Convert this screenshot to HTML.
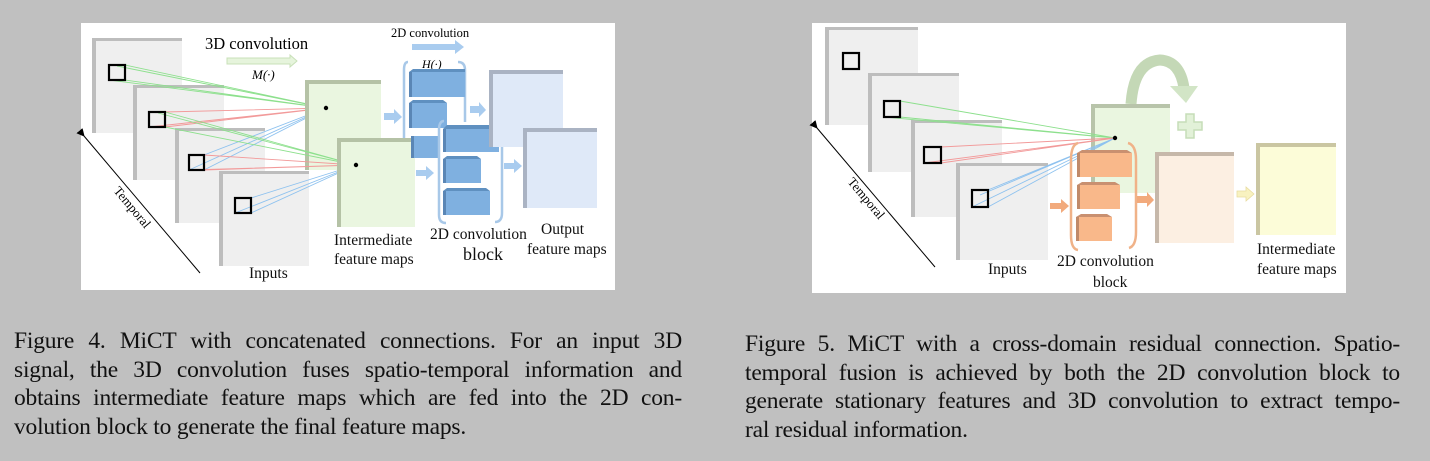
<!DOCTYPE html>
<html><head><meta charset="utf-8"><style>
html,body{margin:0;padding:0;}
body{width:1430px;height:461px;background:#c0c0c0;position:relative;overflow:hidden;font-family:"Liberation Serif",serif;}
svg{position:absolute;left:0;top:0;}
.cap{position:absolute;font-size:23.5px;color:#111;line-height:28.5px;letter-spacing:-0.2px;}
.cap div{text-align:justify;text-align-last:justify;white-space:nowrap;}
.cap div.last{text-align-last:left;}
</style></head><body>
<svg width="1430" height="461" viewBox="0 0 1430 461" font-family="Liberation Serif, serif">
<defs>
<marker id="ah" markerWidth="8" markerHeight="8" refX="1" refY="4" orient="auto"><path d="M8,0 L0,4 L8,8 Z" fill="#000"/></marker>
</defs>
<!-- LEFT PANEL -->
<rect x="81" y="23" width="534" height="267" fill="#fff"/>
<g>
<rect x="92" y="38" width="90" height="95" fill="#bdbdbd"/><rect x="96" y="41" width="86" height="92" fill="#efefef"/>
<rect x="133" y="85" width="91" height="95" fill="#bdbdbd"/><rect x="137" y="88" width="87" height="92" fill="#efefef"/>
<rect x="175" y="128" width="90" height="95" fill="#bdbdbd"/><rect x="179" y="131" width="86" height="92" fill="#efefef"/>
<rect x="219" y="171" width="90" height="95" fill="#bdbdbd"/><rect x="223" y="174" width="86" height="92" fill="#efefef"/>
</g>
<g stroke-width="0.9" fill="none">
<path d="M125,65 L326,108 M125,80 L326,108 M109,80 L326,108 M117,66 L326,108" stroke="#8de08d"/>
<path d="M165,112 L326,108 M165,127 L326,108 M149,127 L326,108" stroke="#f29a9a"/>
<path d="M204,155 L326,108 M204,170 L326,108 M189,170 L326,108" stroke="#8ec2ef"/>
</g>
<rect x="305" y="80" width="76" height="90" fill="#b5c2a6"/><rect x="309" y="84" width="72" height="86" fill="#eaf6e0"/>
<circle cx="326" cy="108" r="2.2" fill="#000"/>
<g stroke-width="0.9" fill="none">
<path d="M165,112 L356,165 M165,127 L356,165 M158,113 L356,165" stroke="#8de08d"/>
<path d="M204,155 L356,165 M204,170 L356,165 M189,170 L356,165" stroke="#f29a9a"/>
<path d="M251,198 L356,165 M251,213 L356,165 M235,213 L356,165" stroke="#8ec2ef"/>
</g>
<rect x="337" y="138" width="78" height="89" fill="#b5c2a6"/><rect x="341" y="142" width="74" height="85" fill="#eaf6e0"/>
<circle cx="356" cy="165" r="2.2" fill="#000"/>
<g fill="none" stroke="#000" stroke-width="2.2">
<rect x="109" y="65" width="16" height="15"/><rect x="149" y="112" width="16" height="15"/>
<rect x="189" y="155" width="15" height="15"/><rect x="235" y="198" width="16" height="15"/>
</g>
<line x1="200" y1="273" x2="84" y2="136" stroke="#000" stroke-width="1" marker-end="url(#ah)"/>
<text x="0" y="0" font-size="13" transform="translate(113,191) rotate(50)">Temporal</text>
<text x="205" y="49" font-size="16.5">3D convolution</text>
<path d="M227,58 L290,58 L290,55 L297,61 L290,67 L290,64 L227,64 Z" fill="#e6f4dc" stroke="#c8e0b8" stroke-width="1"/>
<text x="252" y="79" font-size="13" font-style="italic">M(·)</text>
<text x="391" y="37" font-size="12.5">2D convolution</text>
<path d="M412,44 L455,44 L455,40 L464,47 L455,54 L455,50 L412,50 Z" fill="#a9ccef"/>
<path d="M408,62 Q404,62 404,70 L404,138" fill="none" stroke="#a8c8e8" stroke-width="2.5"/>
<path d="M458,62 Q465,62 465,70 L465,122" fill="none" stroke="#a8c8e8" stroke-width="2.5"/>
<text x="422" y="68" font-size="12" font-style="italic">H(·)</text>
<g>
<rect x="409" y="72" width="56" height="25" fill="#7fb0e0"/><polygon points="409,72 413,69 465,69 465,72" fill="#5f90c0"/><rect x="409" y="72" width="3" height="25" fill="#5a86b5"/>
<rect x="409" y="103" width="38" height="25" fill="#7fb0e0"/><polygon points="409,103 413,100 443,100 447,103" fill="#5f90c0"/><rect x="409" y="103" width="3" height="25" fill="#5a86b5"/>
<rect x="411" y="136" width="29" height="22" fill="#7fb0e0"/><rect x="411" y="136" width="3" height="22" fill="#5a86b5"/>
</g>
<path d="M444,121 Q439,121 439,130 L439,215 Q439,223 446,223" fill="none" stroke="#a8c8e8" stroke-width="2.5"/>
<path d="M492,117 Q502,117 502,127 L502,213 Q502,222 495,222" fill="none" stroke="#a8c8e8" stroke-width="2.5"/>
<rect x="443" y="129" width="56" height="23" fill="#7fb0e0"/><polygon points="443,129 447,125 495,125 499,129" fill="#5f90c0"/><rect x="443" y="129" width="3" height="23" fill="#5a86b5"/>
<rect x="443" y="159" width="38" height="24" fill="#7fb0e0"/><polygon points="443,159 447,156 477,156 481,159" fill="#5f90c0"/><rect x="443" y="159" width="3" height="24" fill="#5a86b5"/>
<rect x="443" y="191" width="47" height="24" fill="#7fb0e0"/><polygon points="443,191 447,188 486,188 490,191" fill="#5f90c0"/><rect x="443" y="191" width="3" height="24" fill="#5a86b5"/>
<g fill="#a9ccef">
<path d="M384,113 L394,113 L394,109 L402,117 L394,124 L394,120 L384,120 Z"/>
<path d="M416,170 L426,170 L426,166 L434,173 L426,180 L426,176 L416,176 Z"/>
<path d="M470,106 L479,106 L479,102 L486,110 L479,117 L479,113 L470,113 Z"/>
<path d="M504,163 L514,163 L514,159 L522,166 L514,173 L514,169 L504,169 Z"/>
</g>
<rect x="489" y="70" width="74" height="77" fill="#aab3c3"/><rect x="493" y="74" width="70" height="73" fill="#dfe9f8"/>
<rect x="523" y="128" width="74" height="80" fill="#aab3c3"/><rect x="527" y="132" width="70" height="76" fill="#dfe9f8"/>
<g font-size="15.5" fill="#111">
<text x="334" y="245">Intermediate</text>
<text x="334" y="264">feature maps</text>
<text x="430" y="239">2D convolution</text>
<text x="463" y="260" font-size="18">block</text>
<text x="541" y="234">Output</text>
<text x="527" y="254">feature maps</text>
<text x="249" y="278">Inputs</text>
</g>

<!-- RIGHT PANEL -->
<rect x="812" y="23" width="534" height="270" fill="#fff"/>
<rect x="825" y="27" width="93" height="98" fill="#bdbdbd"/><rect x="829" y="30" width="89" height="95" fill="#efefef"/>
<rect x="868" y="73" width="91" height="99" fill="#bdbdbd"/><rect x="872" y="76" width="87" height="96" fill="#efefef"/>
<rect x="911" y="120" width="91" height="97" fill="#bdbdbd"/><rect x="915" y="123" width="87" height="94" fill="#efefef"/>
<rect x="956" y="163" width="92" height="97" fill="#bdbdbd"/><rect x="960" y="166" width="88" height="94" fill="#efefef"/>
<path d="M1131,104 Q1134,62 1160,60 Q1180,61 1184,88" fill="none" stroke="#c4d8b6" stroke-width="11"/>
<polygon points="1170,86 1198,86 1186,103" fill="#d2e5c6"/>
<rect x="1091" y="104" width="79" height="89" fill="#b8c4aa"/><rect x="1095" y="108" width="75" height="85" fill="#eaf6e0"/>
<g stroke-width="0.9" fill="none">
<path d="M900,101 L1115,138 M900,117 L1115,138 M884,117 L1115,138" stroke="#8de08d"/>
<path d="M941,147 L1115,138 M941,163 L1115,138 M924,163 L1115,138" stroke="#f29a9a"/>
<path d="M988,190 L1115,138 M988,207 L1115,138 M972,207 L1115,138 M980,195 L1115,138" stroke="#8ec2ef"/>
</g>
<circle cx="1115" cy="138" r="2.2" fill="#000"/>
<g fill="none" stroke="#000" stroke-width="2.2">
<rect x="843" y="53" width="16" height="16"/><rect x="884" y="101" width="16" height="16"/>
<rect x="924" y="147" width="17" height="16"/><rect x="972" y="190" width="16" height="17"/>
</g>
<path d="M1186,114 h8 v8 h8 v8 h-8 v8 h-8 v-8 h-8 v-8 h8 Z" fill="#e2f1d8" stroke="#c6ddb8" stroke-width="1.5"/>
<path d="M1078,143 Q1071,145 1071,160 L1071,235 Q1071,249 1078,250" fill="none" stroke="#f0b288" stroke-width="2.5"/>
<path d="M1128,143 Q1136,145 1136,160 L1136,232 Q1136,246 1129,248" fill="none" stroke="#f0b288" stroke-width="2.5"/>
<rect x="1077" y="153" width="55" height="24" fill="#f9b88a"/><polygon points="1077,153 1082,150 1127,150 1132,153" fill="#c99070"/><rect x="1077" y="153" width="3" height="24" fill="#c08a6a"/>
<rect x="1077" y="185" width="43" height="24" fill="#f9b88a"/><polygon points="1077,185 1082,182 1115,182 1120,185" fill="#c99070"/><rect x="1077" y="185" width="3" height="24" fill="#c08a6a"/>
<rect x="1076" y="217" width="36" height="24" fill="#f9b88a"/><polygon points="1076,217 1081,214 1107,214 1112,217" fill="#c99070"/><rect x="1076" y="217" width="3" height="24" fill="#c08a6a"/>
<path d="M1050,203 L1061,203 L1061,199 L1069,206 L1061,213 L1061,209 L1050,209 Z" fill="#f2aa7c"/>
<path d="M1137,196 L1147,196 L1147,192 L1154,200 L1147,207 L1147,203 L1137,203 Z" fill="#f2aa7c"/>
<path d="M1237,191 L1246,191 L1246,187 L1254,194 L1246,201 L1246,197 L1237,197 Z" fill="#f8f2c0" stroke="#e8dca0" stroke-width="0.8"/>
<rect x="1155" y="152" width="79" height="91" fill="#c6b8aa"/><rect x="1159" y="156" width="75" height="87" fill="#fcefe2"/>
<rect x="1256" y="143" width="80" height="92" fill="#cac6a2"/><rect x="1260" y="147" width="76" height="88" fill="#fcfcd8"/>
<line x1="935" y1="267" x2="817" y2="128" stroke="#000" stroke-width="1" marker-end="url(#ah)"/>
<text x="0" y="0" font-size="13" transform="translate(847,182) rotate(50)">Temporal</text>
<g font-size="15.5" fill="#111">
<text x="988" y="274">Inputs</text>
<text x="1057" y="266">2D convolution</text>
<text x="1093" y="287">block</text>
<text x="1257" y="254">Intermediate</text>
<text x="1257" y="274">feature maps</text>
</g>
</svg>
<div class="cap" style="left:14px;top:327px;width:668px;">
<div>Figure 4. MiCT with concatenated connections. For an input 3D</div>
<div>signal, the 3D convolution fuses spatio-temporal information and</div>
<div>obtains intermediate feature maps which are fed into the 2D con-</div>
<div class="last">volution block to generate the final feature maps.</div>
</div>
<div class="cap" style="left:745px;top:330px;width:655px;">
<div>Figure 5. MiCT with a cross-domain residual connection. Spatio-</div>
<div>temporal fusion is achieved by both the 2D convolution block to</div>
<div>generate stationary features and 3D convolution to extract tempo-</div>
<div class="last">ral residual information.</div>
</div>
</body></html>
